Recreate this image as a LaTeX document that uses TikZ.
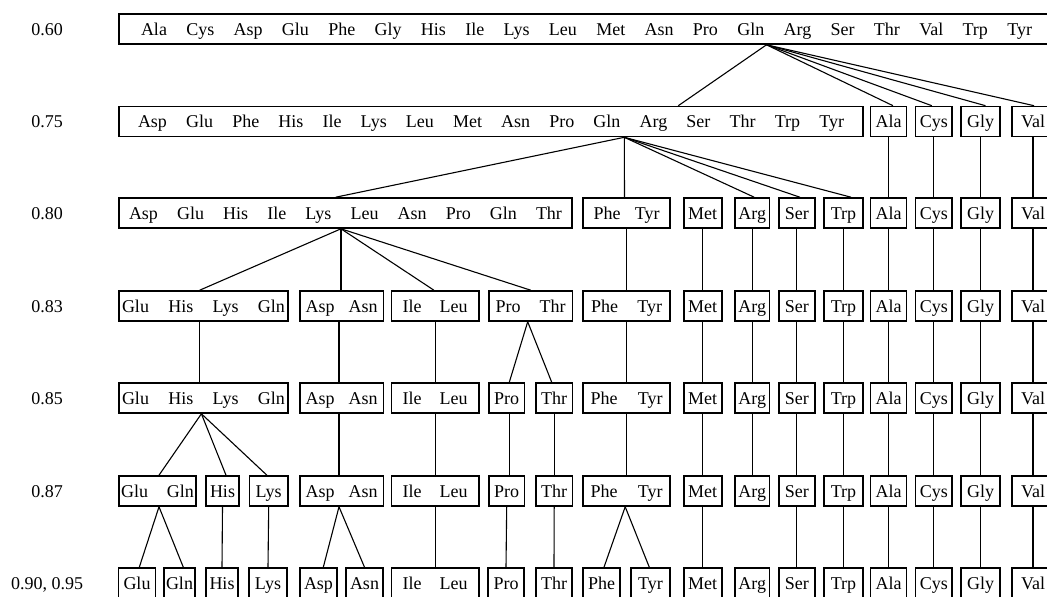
\documentclass[tikz,border=0pt]{standalone}
\usepackage{fontspec}
\setmainfont{Liberation Serif}
\newcommand{\spreadw}[2]{\makebox[#1]{#2}}
\tikzset{
  bx/.style={draw, line width=1.6pt, inner sep=0pt, minimum height=30pt,
    text height=12pt, text depth=0pt, font=\fontsize{18pt}{20pt}\selectfont},
  lab/.style={inner sep=0pt, text height=12pt, text depth=0pt,
    font=\fontsize{18pt}{20pt}\selectfont},
  link/.style={line width=1.1pt},
  thicklink/.style={line width=1.8pt},
}
\begin{document}
\begin{tikzpicture}[x=1pt,y=-1pt]
\useasboundingbox (0,0) rectangle (1047,597);
\clip (0,0) rectangle (1047,597);

% level labels
\node[lab] (l0) at (47,29) {0.60};
\node[lab] (l1) at (47,121.5) {0.75};
\node[lab] (l2) at (47,213) {0.80};
\node[lab] (l3) at (47,306) {0.83};
\node[lab] (l4) at (47,398) {0.85};
\node[lab] (l5) at (47,491) {0.87};
\node[lab] (l6) at (47,583) {0.90, 0.95};

% row 0.60
\node[bx, minimum width=935pt] (r0) at (586.5,29) {\spreadw{891pt}{Ala\hfill Cys\hfill Asp\hfill Glu\hfill Phe\hfill Gly\hfill His\hfill Ile\hfill Lys\hfill Leu\hfill Met\hfill Asn\hfill Pro\hfill Gln\hfill Arg\hfill Ser\hfill Thr\hfill Val\hfill Trp\hfill Tyr}};

% row 0.75
\node[bx, minimum width=744pt] (r1) at (491,121.5) {\spreadw{706pt}{Asp\hfill Glu\hfill Phe\hfill His\hfill Ile\hfill Lys\hfill Leu\hfill Met\hfill Asn\hfill Pro\hfill Gln\hfill Arg\hfill Ser\hfill Thr\hfill Trp\hfill Tyr}};

% row 0.80
\node[bx, minimum width=453pt] (r2) at (345.5,213) {\spreadw{433pt}{Asp\hfill Glu\hfill His\hfill Ile\hfill Lys\hfill Leu\hfill Asn\hfill Pro\hfill Gln\hfill Thr}};
\node[bx, minimum width=87pt] (pt2) at (626.5,213) {\spreadw{66pt}{Phe\hfill Tyr}};

% row 0.83
\node[bx, minimum width=169pt] (g3) at (203.5,306) {\spreadw{163pt}{Glu\hfill His\hfill Lys\hfill Gln}};
\node[bx, minimum width=83.3pt] (aa3) at (341.7,306) {\spreadw{72pt}{Asp\hfill Asn}};
\node[bx, minimum width=87.5pt] (il3) at (435.2,306) {\spreadw{65pt}{Ile\hfill Leu}};
\node[bx, minimum width=83.3pt] (prt3) at (530.7,306) {\spreadw{70pt}{Pro\hfill Thr}};
\node[bx, minimum width=87pt] (pt3) at (626.5,306) {\spreadw{71pt}{Phe\hfill Tyr}};

% row 0.85
\node[bx, minimum width=169pt] (g4) at (203.5,398) {\spreadw{163pt}{Glu\hfill His\hfill Lys\hfill Gln}};
\node[bx, minimum width=83.3pt] (aa4) at (341.7,398) {\spreadw{72pt}{Asp\hfill Asn}};
\node[bx, minimum width=87.5pt] (il4) at (435.2,398) {\spreadw{65pt}{Ile\hfill Leu}};
\node[bx, minimum width=35.3pt] (pro4) at (506.7,398) {Pro};
\node[bx, minimum width=36.3pt] (thr4) at (554.2,398) {Thr};
\node[bx, minimum width=87pt] (pt4) at (626.5,398) {\spreadw{72pt}{Phe\hfill Tyr}};

% row 0.87
\node[bx, minimum width=77.5pt] (gg5) at (157.5,491) {\spreadw{72.6pt}{Glu\hfill Gln}};
\node[bx, minimum width=33pt] (his5) at (222.5,491) {His};
\node[bx, minimum width=38.5pt] (lys5) at (268.7,491) {Lys};
\node[bx, minimum width=83.3pt] (aa5) at (341.7,491) {\spreadw{72pt}{Asp\hfill Asn}};
\node[bx, minimum width=87.5pt] (il5) at (435.2,491) {\spreadw{65pt}{Ile\hfill Leu}};
\node[bx, minimum width=35.3pt] (pro5) at (506.7,491) {Pro};
\node[bx, minimum width=36.3pt] (thr5) at (554.2,491) {Thr};
\node[bx, minimum width=87pt] (pt5) at (626.5,491) {\spreadw{72pt}{Phe\hfill Tyr}};

% row 0.90, 0.95
\node[bx, minimum width=37pt] (glu6) at (137,583) {Glu};
\node[bx, minimum width=31pt] (gln6) at (179.5,583) {Gln};
\node[bx, minimum width=32pt] (his6) at (222,583) {His};
\node[bx, minimum width=38pt] (lys6) at (268,583) {Lys};
\node[bx, minimum width=37pt] (asp6) at (318.5,583) {Asp};
\node[bx, minimum width=37pt] (asn6) at (364.5,583) {Asn};
\node[bx, minimum width=87.5pt] (il6) at (435.2,583) {\spreadw{65pt}{Ile\hfill Leu}};
\node[bx, minimum width=36pt] (pro6) at (506,583) {Pro};
\node[bx, minimum width=36pt] (thr6) at (554,583) {Thr};
\node[bx, minimum width=37pt] (phe6) at (601.5,583) {Phe};
\node[bx, minimum width=39pt] (tyr6) at (650.5,583) {Tyr};

% single-residue columns
\foreach \n/\x/\w in {Met/702.7/38, Arg/752.2/34.4, Ser/796.9/36.2, Trp/843.5/39}
  \foreach \r/\y in {2/213,3/306,4/398,5/491,6/583}
    \node[bx, minimum width=\w] (\n\r) at (\x,\y) {\n};
\foreach \n/\x/\w in {Ala/888.6/36, Cys/933.8/36.4, Gly/980.5/39, Val/1033/42}
  \foreach \r/\y in {1/121.5,2/213,3/306,4/398,5/491,6/583}
    \node[bx, minimum width=\w] (\n\r) at (\x,\y) {\n};

% ---- connectors ----
% 0.60 -> 0.75
\coordinate (a0) at ([xshift=180pt]r0.south);
\draw[link] (a0) -- ([xshift=187.3pt]r1.north);
\draw[link] (a0) -- ([xshift=4.4pt]Ala1.north);
\draw[link] (a0) -- ([xshift=-2pt]Cys1.north);
\draw[link] (a0) -- ([xshift=5pt]Gly1.north);
\draw[link] (a0) -- ([xshift=1pt]Val1.north);

% 0.75 -> 0.80
\coordinate (a1) at ([xshift=133.3pt]r1.south);
\draw[link] (a1) -- ([xshift=-9.8pt]r2.north);
\draw[link] (a1) -- ([xshift=-2pt]pt2.north);
\draw[link] (a1) -- ([xshift=2pt]Arg2.north);
\draw[link] (a1) -- ([xshift=3pt]Ser2.north);
\draw[link] (a1) -- ([xshift=7.5pt]Trp2.north);

% 0.80 -> 0.83
\coordinate (a2) at ([xshift=-4.5pt]r2.south);
\draw[link] (a2) -- ([xshift=-3.8pt]g3.north);
\draw[link] (a2) -- ([xshift=-0.7pt]aa3.north);
\draw[link] (a2) -- ([xshift=-1.3pt]il3.north);
\draw[link] (a2) -- (prt3.north);
\draw[link] (pt2.south) -- (pt3.north);

% 0.83 -> 0.85
\draw[link] ([xshift=-3.8pt]g3.south) -- ([xshift=-3.8pt]g4.north);
\draw[link] ([xshift=-2.7pt]aa3.south) -- ([xshift=-2.7pt]aa4.north);
\draw[link] (il3.south) -- (il4.north);
\coordinate (a3) at ([xshift=-3pt]prt3.south);
\draw[link] (a3) -- ([xshift=2.6pt]pro4.north);
\draw[link] (a3) -- ([xshift=-2.5pt]thr4.north);
\draw[thicklink] (pt3.south) -- (pt4.north);

% 0.85 -> 0.87
\coordinate (a4) at ([xshift=-2.1pt]g4.south);
\draw[link] (a4) -- ([xshift=1.5pt]gg5.north);
\draw[link] (a4) -- ([xshift=3.5pt]his5.north);
\draw[link] (a4) -- ([xshift=-1.8pt]lys5.north);
\draw[link] ([xshift=-2.7pt]aa4.south) -- ([xshift=-2.7pt]aa5.north);
\draw[link] (il4.south) -- (il5.north);
\draw[link] ([xshift=3pt]pro4.south) -- ([xshift=3pt]pro5.north);
\draw[link] (thr4.south) -- (thr5.north);
\draw[link] (pt4.south) -- (pt5.north);

% 0.87 -> 0.90
\coordinate (a5g) at ([xshift=1.5pt]gg5.south);
\draw[link] (a5g) -- ([xshift=2.3pt]glu6.north);
\draw[link] (a5g) -- ([xshift=3.8pt]gln6.north);
\draw[link] (his5.south) -- (his6.north);
\draw[link] (lys5.south) -- (lys6.north);
\coordinate (a5a) at ([xshift=-2.7pt]aa5.south);
\draw[link] (a5a) -- ([xshift=4.8pt]asp6.north);
\draw[link] (a5a) -- (asn6.north);
\draw[link] (il5.south) -- (il6.north);
\draw[link] (pro5.south) -- (pro6.north);
\draw[link] (thr5.south) -- (thr6.north);
\coordinate (a5p) at ([xshift=-1.3pt]pt5.south);
\draw[link] (a5p) -- ([xshift=2.5pt]phe6.north);
\draw[link] (a5p) -- ([xshift=-1.2pt]tyr6.north);

% single-residue verticals
\foreach \n in {Ala,Cys,Gly,Val}
  \foreach \r/\q in {1/2,2/3,3/4,4/5,5/6}
    \draw[link] (\n\r.south) -- (\n\q.north);
\foreach \n in {Met,Ser,Trp}
  \foreach \r/\q in {2/3,3/4,4/5,5/6}
    \draw[link] (\n\r.south) -- (\n\q.north);
\foreach \r/\q in {2/3,3/4,4/5}
  \draw[link] (Arg\r.south) -- (Arg\q.north);
\end{tikzpicture}
\end{document}
